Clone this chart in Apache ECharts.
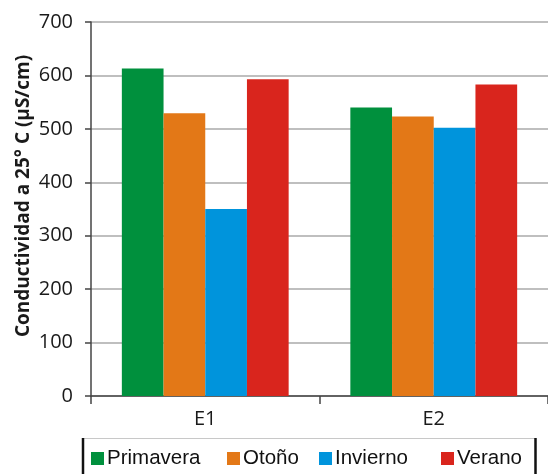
<!DOCTYPE html>
<html>
<head>
<meta charset="utf-8">
<script src="https://cdn.jsdelivr.net/npm/echarts@6/dist/echarts.min.js"></script>
<style>
  html, body { margin: 0; padding: 0; background: #fff; }
  #chart { width: 548px; height: 474px; }
</style>
</head>
<body>
<div id="chart"></div>
<script>
// Conductividad a 25 °C por estación y punto de muestreo
const estaciones = ['E1', 'E2'];
const seriesNames = ['Primavera', 'Otoño', 'Invierno', 'Verano'];
const primavera = [613, 540];
const otono = [529, 523];
const invierno = [350, 502];
const verano = [593, 583];
const yTicks = [0, 100, 200, 300, 400, 500, 600, 700];

const colors = ['#00903d', '#e37817', '#0094dc', '#d9251d'];
const values = [primavera, otono, invierno, verano];

const chart = echarts.init(document.getElementById('chart'), null, { renderer: 'canvas' });

// horizontal position of each legend entry inside the framed box
const legendLefts = [91, 227, 319, 441];

chart.setOption({
  animation: false,
  backgroundColor: '#ffffff',
  grid: { left: 91, right: -10, top: 22, bottom: 78, containLabel: false },
  xAxis: {
    type: 'category',
    data: estaciones,
    axisLine: { lineStyle: { color: '#444', width: 1.5 } },
    axisTick: { show: true, alignWithLabel: false, length: 8, lineStyle: { color: '#444', width: 1.5 } },
    axisLabel: { color: '#1a1a1a', fontFamily: 'Open Sans', fontSize: 20, margin: 13 }
  },
  yAxis: {
    type: 'value',
    min: yTicks[0],
    max: yTicks[yTicks.length - 1],
    interval: 100,
    name: 'Conductividad a 25° C (µS/cm)',
    nameLocation: 'middle',
    nameRotate: 90,
    nameGap: 58,
    nameMoveOverlap: false,
    nameTextStyle: { color: '#1a1a1a', fontFamily: 'Open Sans', fontWeight: 'bold', fontSize: 19, padding: [0, 0, 0, 26] },
    axisLine: { show: true, lineStyle: { color: '#444', width: 1.5 } },
    axisTick: { show: true, inside: false, length: 6, lineStyle: { color: '#444', width: 1.5 } },
    axisLabel: { color: '#1a1a1a', fontFamily: 'Open Sans', fontSize: 20, margin: 18 },
    splitLine: { lineStyle: { color: '#aaaaaa', width: 1.5 } }
  },
  legend: seriesNames.map((n, i) => ({
    data: [n],
    left: legendLefts[i],
    top: 448,
    icon: 'rect',
    itemWidth: 13,
    itemHeight: 13,
    itemGap: 4,
    padding: 0,
    textStyle: { color: '#111', fontFamily: 'Liberation Sans', fontSize: 20.5, padding: [0, 0, 0, -2] }
  })),
  graphic: [
    { type: 'line', shape: { x1: 83, y1: 438.5, x2: 535, y2: 438.5 }, style: { stroke: '#c8c8c8', lineWidth: 1 } },
    { type: 'line', shape: { x1: 83, y1: 438, x2: 83, y2: 474 }, style: { stroke: '#111', lineWidth: 2.5 } },
    { type: 'line', shape: { x1: 535.5, y1: 438, x2: 535.5, y2: 474 }, style: { stroke: '#111', lineWidth: 2.5 } }
  ],
  series: seriesNames.map((n, i) => ({
    name: n,
    type: 'bar',
    data: values[i],
    barGap: '0%',
    barCategoryGap: '27%',
    itemStyle: { color: colors[i] }
  }))
});
</script>
</body>
</html>
